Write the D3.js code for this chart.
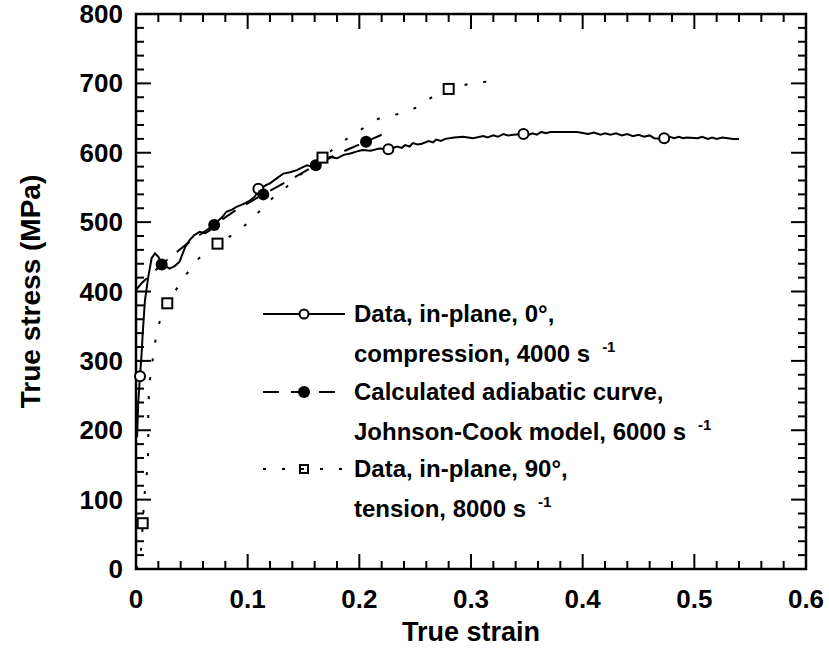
<!DOCTYPE html>
<html>
<head>
<meta charset="utf-8">
<script src="https://cdn.jsdelivr.net/npm/d3@7"></script>
<style>
  body { margin: 0; background: #fff; }
  text { font-family: "Liberation Sans", Arial, sans-serif; font-weight: bold; fill: #000; }
</style>
</head>
<body>
<svg id="chart" width="829" height="653"></svg>
<script>
// compression data, in-plane 0 deg (solid, open circles)
var compStrain = [0.001, 0.002, 0.0036, 0.005, 0.006, 0.008, 0.011, 0.014, 0.017, 0.020, 0.023, 0.027, 0.030, 0.035, 0.039, 0.044, 0.048, 0.052, 0.057, 0.062, 0.066, 0.072, 0.077, 0.081, 0.086, 0.090, 0.096, 0.102, 0.106, 0.111, 0.116, 0.120, 0.126, 0.132, 0.138, 0.144, 0.149, 0.153, 0.158, 0.162, 0.168, 0.174, 0.180, 0.186, 0.192, 0.198, 0.203, 0.210, 0.218, 0.226, 0.234, 0.238, 0.241, 0.245, 0.248, 0.252, 0.256, 0.262, 0.266, 0.269, 0.273, 0.277, 0.285, 0.293, 0.302, 0.311, 0.315, 0.320, 0.324, 0.329, 0.333, 0.338, 0.346, 0.352, 0.355, 0.359, 0.363, 0.367, 0.371, 0.383, 0.395, 0.405, 0.410, 0.416, 0.420, 0.425, 0.430, 0.435, 0.440, 0.445, 0.450, 0.455, 0.460, 0.464, 0.472, 0.478, 0.482, 0.486, 0.490, 0.493, 0.503, 0.507, 0.512, 0.516, 0.520, 0.525, 0.530, 0.535, 0.540];
var compStress = [190, 240, 278, 310, 339, 387, 421, 448, 455, 450, 440, 436, 433, 437, 443, 464, 474, 481, 486, 484, 488, 500, 507, 515, 518, 522, 526, 531, 536, 548, 553, 556, 563, 570, 572, 575, 579, 582, 580, 584, 589, 594, 592, 597, 599, 602, 604, 603, 606, 605, 609, 607, 611, 609, 614, 612, 613, 617, 615, 619, 617, 620, 622, 623, 621, 624, 622, 625, 623, 627, 625, 626, 627, 626, 628, 626, 630, 628, 630, 630, 630, 627, 629, 626, 628, 626, 628, 625, 627, 624, 626, 623, 625, 621, 620, 623, 621, 623, 621, 622, 621, 623, 620, 622, 620, 622, 621, 620, 620];
var compMarkX = [0.0036, 0.1096, 0.226, 0.347, 0.473];
var compMarkY = [278, 548, 605, 627, 621];

// Johnson-Cook adiabatic curve (dashed, filled circles)
var jcStrain = [0, 0.005, 0.011, 0.023, 0.032, 0.045, 0.070, 0.090, 0.114, 0.140, 0.161, 0.180, 0.206, 0.220];
var jcStress = [402, 412, 421, 439, 451, 468, 496, 518, 540, 563, 582, 598, 616, 626];
var jcMarkX = [0.023, 0.070, 0.114, 0.161, 0.206];
var jcMarkY = [439, 496, 540, 582, 616];

// tension data, in-plane 90 deg (dotted, open squares)
var tenStrain = [0, 0.002, 0.005, 0.006, 0.008, 0.010, 0.011, 0.011, 0.0116, 0.013, 0.0155, 0.018, 0.0224, 0.028, 0.042, 0.055, 0.073, 0.090, 0.1045, 0.118, 0.135, 0.150, 0.167, 0.185, 0.200, 0.217, 0.235, 0.251, 0.2686, 0.280, 0.3027, 0.319];
var tenStress = [0, 6, 33, 66, 115, 142, 170, 225, 254, 281, 308, 336, 364, 383, 418, 446, 469, 485, 505, 529, 551, 572, 593, 616, 632, 649, 656, 665, 684, 692, 701, 703];
var tenMarkX = [0.006, 0.028, 0.073, 0.167, 0.280];
var tenMarkY = [66, 383, 469, 593, 692];

var xTicks = [0, 0.1, 0.2, 0.3, 0.4, 0.5, 0.6];
var yTicks = [0, 100, 200, 300, 400, 500, 600, 700, 800];

var legendLabels = [
  ["Data, in-plane, 0°,", "compression, 4000 s"],
  ["Calculated adiabatic curve,", "Johnson-Cook model, 6000 s"],
  ["Data, in-plane, 90°,", "tension, 8000 s"]
];

var svg = d3.select("#chart");
var mLeft = 136, mRight = 806, mTop = 14, mBottom = 569;

var x = d3.scaleLinear().domain([0, 0.6]).range([mLeft, mRight]);
var y = d3.scaleLinear().domain([0, 800]).range([mBottom, mTop]);

var plot = svg.append("g");

// minor + major ticks on all four sides (inward)
var xMinor = d3.range(0, 0.6001, 0.02);
var yMinor = d3.range(0, 800.1, 20);

function isMajorX(v) { return Math.abs(v * 10 - Math.round(v * 10)) < 1e-6; }
function isMajorY(v) { return Math.round(v) % 100 === 0; }

plot.selectAll(".xt").data(xMinor).enter().append("line")
  .attr("x1", d => x(d)).attr("x2", d => x(d))
  .attr("y1", mBottom).attr("y2", d => mBottom - (isMajorX(d) ? 15 : 8))
  .attr("stroke", "#000").attr("stroke-width", 2);
plot.selectAll(".xtt").data(xMinor).enter().append("line")
  .attr("x1", d => x(d)).attr("x2", d => x(d))
  .attr("y1", mTop).attr("y2", d => mTop + (isMajorX(d) ? 15 : 8))
  .attr("stroke", "#000").attr("stroke-width", 2);
plot.selectAll(".yt").data(yMinor).enter().append("line")
  .attr("y1", d => y(d)).attr("y2", d => y(d))
  .attr("x1", mLeft).attr("x2", d => mLeft + (isMajorY(d) ? 15 : 8))
  .attr("stroke", "#000").attr("stroke-width", 2);
plot.selectAll(".ytr").data(yMinor).enter().append("line")
  .attr("y1", d => y(d)).attr("y2", d => y(d))
  .attr("x1", mRight).attr("x2", d => mRight - (isMajorY(d) ? 15 : 8))
  .attr("stroke", "#000").attr("stroke-width", 2);

// frame
plot.append("rect")
  .attr("x", mLeft).attr("y", mTop)
  .attr("width", mRight - mLeft).attr("height", mBottom - mTop)
  .attr("fill", "none").attr("stroke", "#000").attr("stroke-width", 2.5);

// tick labels
svg.selectAll(".xl").data(xTicks).enter().append("text")
  .attr("x", d => x(d)).attr("y", 608)
  .attr("text-anchor", "middle").style("font-size", "26px")
  .text(d => d3.format("")(d));
svg.selectAll(".yl").data(yTicks).enter().append("text")
  .attr("x", 123).attr("y", d => y(d) + 9)
  .attr("text-anchor", "end").style("font-size", "26px")
  .text(d => d);

// axis titles
svg.append("text").attr("x", 471).attr("y", 641)
  .attr("text-anchor", "middle").style("font-size", "27px")
  .text("True strain");
svg.append("text")
  .attr("transform", "translate(40," + ((mTop + mBottom) / 2) + ") rotate(-90)")
  .attr("text-anchor", "middle").style("font-size", "28px")
  .text("True stress (MPa)");

var line = d3.line().x(d => x(d[0])).y(d => y(d[1]));

// tension dotted
plot.append("path")
  .datum(d3.zip(tenStrain, tenStress))
  .attr("d", line).attr("fill", "none").attr("stroke", "#000")
  .attr("stroke-width", 2).attr("stroke-dasharray", "3,16");

// JC dashed
plot.append("path")
  .datum(d3.zip(jcStrain, jcStress))
  .attr("d", line).attr("fill", "none").attr("stroke", "#000")
  .attr("stroke-width", 2).attr("stroke-dasharray", "16,12");

// compression solid
plot.append("path")
  .datum(d3.zip(compStrain, compStress))
  .attr("d", line).attr("fill", "none").attr("stroke", "#000")
  .attr("stroke-width", 2);

// markers
plot.selectAll(".cm").data(d3.zip(compMarkX, compMarkY)).enter().append("circle")
  .attr("cx", d => x(d[0])).attr("cy", d => y(d[1])).attr("r", 5)
  .attr("fill", "#fff").attr("stroke", "#000").attr("stroke-width", 2);
plot.selectAll(".jm").data(d3.zip(jcMarkX, jcMarkY)).enter().append("circle")
  .attr("cx", d => x(d[0])).attr("cy", d => y(d[1])).attr("r", 6)
  .attr("fill", "#000");
plot.selectAll(".tm").data(d3.zip(tenMarkX, tenMarkY)).enter().append("rect")
  .attr("x", d => x(d[0]) - 5).attr("y", d => y(d[1]) - 5)
  .attr("width", 10).attr("height", 10)
  .attr("fill", "#fff").attr("stroke", "#000").attr("stroke-width", 2);

// legend
var leg = svg.append("g");
var rowY = [314, 392, 469];
var dashes = [null, "16,12", "3,16"];
rowY.forEach(function(ry, i) {
  leg.append("line").attr("x1", 263).attr("x2", 345).attr("y1", ry).attr("y2", ry)
    .attr("stroke", "#000").attr("stroke-width", 2)
    .attr("stroke-dasharray", dashes[i]);
  if (i === 0) {
    leg.append("circle").attr("cx", 304).attr("cy", ry).attr("r", 4.5)
      .attr("fill", "#fff").attr("stroke", "#000").attr("stroke-width", 2);
  } else if (i === 1) {
    leg.append("circle").attr("cx", 304).attr("cy", ry).attr("r", 6).attr("fill", "#000");
  } else {
    leg.append("rect").attr("x", 300).attr("y", ry - 4).attr("width", 8).attr("height", 8)
      .attr("fill", "none").attr("stroke", "#000").attr("stroke-width", 2);
  }
  leg.append("text").attr("x", 354).attr("y", ry + 8)
    .style("font-size", "24px").text(legendLabels[i][0]);
  var t2 = leg.append("text").attr("x", 354).attr("y", ry + 48)
    .style("font-size", "24px").text(legendLabels[i][1]);
  // superscript "-1" sits a little past the unit, slightly raised
  var endX = 354 + t2.node().getComputedTextLength();
  leg.append("text").attr("x", endX + 12).attr("y", ry + 38)
    .style("font-size", "15px").text("-1");
});
</script>
</body>
</html>
